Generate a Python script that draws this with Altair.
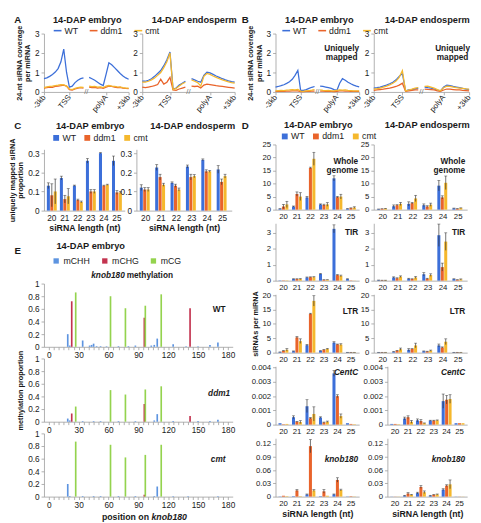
import altair as alt
import pandas as pd

FONT = "Liberation Sans"
GREY = "#9c9c9c"
INK = "#1a1a1a"

GENOTYPES = ["WT", "ddm1", "cmt"]
GENO_COLORS = ["#3c6fd9", "#e9642b", "#f5b82d"]
LENGTHS = [20, 21, 22, 23, 24, 25]

# ---------- Panels A / B : metaplot profiles ----------
SEC1_X = list(range(0, 15))
SEC2_X = list(range(16, 31))
BREAK_X = [15]
PROFILE_TICKS = [0, 9, 22, 30]
PROFILE_LABELS = ["-3kb", "TSS", "polyA", "+3kb"]
PROFILE_Y_TICKS = [0, 1, 2, 3]

A_EMB = {
    "WT": ([0.68, 0.72, 0.80, 0.90, 1.02, 1.20, 1.55, 2.20, 1.00, 0.25, 0.30, 0.48, 0.60, 0.68, 0.72],
           [0.75, 0.68, 0.60, 0.50, 0.40, 0.33, 0.90, 1.50, 1.40, 1.25, 1.10, 0.95, 0.82, 0.72, 0.65]),
    "ddm1": ([0.20, 0.22, 0.25, 0.23, 0.28, 0.30, 0.32, 0.35, 0.30, 0.12, 0.10, 0.15, 0.20, 0.22, 0.20],
             [0.25, 0.22, 0.24, 0.20, 0.22, 0.18, 0.25, 0.30, 0.28, 0.25, 0.22, 0.24, 0.20, 0.18, 0.17]),
    "cmt": ([0.22, 0.26, 0.28, 0.30, 0.33, 0.35, 0.38, 0.36, 0.30, 0.15, 0.12, 0.18, 0.22, 0.25, 0.24],
            [0.30, 0.27, 0.28, 0.25, 0.26, 0.22, 0.30, 0.33, 0.30, 0.28, 0.26, 0.25, 0.22, 0.20, 0.20]),
}
A_END = {
    "WT": ([0.55, 0.55, 0.60, 0.68, 0.80, 0.95, 1.10, 1.35, 1.65, 2.05, 0.15, 0.20, 0.35, 0.45, 0.55],
           [0.68, 0.62, 0.55, 0.50, 0.85, 1.02, 0.98, 0.90, 0.82, 0.75, 0.68, 0.62, 0.57, 0.53, 0.50]),
    "ddm1": ([0.25, 0.22, 0.25, 0.28, 0.32, 0.38, 0.65, 0.40, 0.50, 0.75, 0.10, 0.08, 0.15, 0.20, 0.25],
             [0.30, 0.28, 0.30, 0.20, 0.35, 0.40, 0.38, 0.35, 0.32, 0.30, 0.28, 0.26, 0.24, 0.22, 0.20]),
    "cmt": ([0.50, 0.50, 0.55, 0.62, 0.72, 0.85, 1.00, 1.25, 1.55, 2.00, 0.12, 0.18, 0.30, 0.42, 0.50],
            [0.62, 0.55, 0.48, 0.30, 0.80, 0.95, 0.90, 0.82, 0.75, 0.68, 0.62, 0.57, 0.52, 0.48, 0.45]),
}
B_EMB = {
    "WT": ([0.25, 0.28, 0.32, 0.37, 0.44, 0.52, 0.65, 0.85, 1.10, 0.08, 0.08, 0.12, 0.18, 0.24, 0.28],
           [0.30, 0.28, 0.25, 0.22, 0.18, 0.12, 0.08, 0.45, 0.68, 0.60, 0.50, 0.42, 0.35, 0.30, 0.26]),
    "ddm1": ([0.03, 0.03, 0.04, 0.03, 0.04, 0.04, 0.05, 0.05, 0.06, 0.02, 0.02, 0.03, 0.03, 0.04, 0.04],
             [0.04, 0.04, 0.03, 0.04, 0.03, 0.02, 0.03, 0.05, 0.05, 0.04, 0.04, 0.03, 0.03, 0.03, 0.03]),
    "cmt": ([0.06, 0.07, 0.08, 0.07, 0.09, 0.10, 0.12, 0.10, 0.13, 0.04, 0.03, 0.05, 0.07, 0.09, 0.12],
            [0.10, 0.08, 0.07, 0.08, 0.06, 0.05, 0.08, 0.10, 0.09, 0.10, 0.08, 0.07, 0.06, 0.06, 0.05]),
}
B_END = {
    "WT": ([0.20, 0.22, 0.25, 0.30, 0.35, 0.42, 0.50, 0.62, 0.80, 0.95, 0.05, 0.10, 0.12, 0.16, 0.20],
           [0.25, 0.22, 0.20, 0.15, 0.10, 0.05, 0.25, 0.35, 0.32, 0.28, 0.25, 0.22, 0.18, 0.15, 0.12]),
    "ddm1": ([0.08, 0.10, 0.12, 0.14, 0.17, 0.20, 0.24, 0.28, 0.35, 0.45, 0.03, 0.05, 0.08, 0.10, 0.10],
             [0.15, 0.13, 0.12, 0.10, 0.06, 0.03, 0.10, 0.15, 0.14, 0.12, 0.10, 0.10, 0.08, 0.07, 0.06]),
    "cmt": ([0.15, 0.17, 0.20, 0.25, 0.30, 0.36, 0.45, 0.56, 0.75, 1.10, 0.05, 0.10, 0.14, 0.20, 0.22],
            [0.28, 0.30, 0.25, 0.20, 0.12, 0.06, 0.22, 0.30, 0.28, 0.25, 0.22, 0.20, 0.18, 0.16, 0.15]),
}

# ---------- Panel C : uniquely mapped proportion ----------
C_EMB = {"WT": [0.13, 0.17, 0.13, 0.26, 0.30, 0.26],
         "ddm1": [0.08, 0.06, 0.055, 0.10, 0.13, 0.095],
         "cmt": [0.10, 0.075, 0.045, 0.10, 0.135, 0.095]}
C_EMB_ERR = {"WT": [0.015, 0.01, 0.003, 0.012, 0.003, 0.025],
             "ddm1": [0.06, 0.02, 0.005, 0.01, 0.003, 0.01],
             "cmt": [0.065, 0.04, 0.005, 0.01, 0.003, 0.005]}
C_END = {"WT": [0.12, 0.225, 0.145, 0.23, 0.265, 0.215],
         "ddm1": [0.11, 0.175, 0.13, 0.175, 0.205, 0.15],
         "cmt": [0.11, 0.135, 0.11, 0.18, 0.205, 0.18]}
C_END_ERR = {"WT": [0.015, 0.015, 0.005, 0.008, 0.005, 0.02],
             "ddm1": [0.01, 0.015, 0.008, 0.015, 0.008, 0.015],
             "cmt": [0.01, 0.008, 0.008, 0.008, 0.005, 0.01]}

# ---------- Panel D : siRNAs per miRNA ----------
WHOLE_EMB = {"WT": [0.3, 1.2, 4.7, 2.0, 12.0, 0.3], "ddm1": [1.2, 6.0, 16.0, 1.8, 4.8, 0.6], "cmt": [2.0, 5.0, 19.5, 2.0, 5.0, 0.8]}
WHOLE_EMB_ERR = {"WT": [0.1, 0.2, 0.4, 0.2, 1.0, 0.1], "ddm1": [0.8, 0.8, 0.3, 0.3, 0.3, 0.1], "cmt": [1.2, 1.5, 2.5, 0.7, 0.9, 0.3]}
WHOLE_END = {"WT": [0.2, 1.3, 2.2, 1.7, 9.2, 0.5], "ddm1": [0.3, 1.7, 2.5, 1.2, 4.7, 0.3], "cmt": [0.4, 2.2, 4.3, 1.9, 10.3, 0.6]}
WHOLE_END_ERR = {"WT": [0.05, 0.5, 0.8, 0.5, 2.0, 0.1], "ddm1": [0.05, 0.2, 0.3, 0.3, 0.6, 0.1], "cmt": [0.1, 0.6, 1.2, 0.6, 2.6, 0.1]}

TIR_EMB = {"WT": [0.02, 0.1, 0.2, 0.42, 3.25, 0.1], "ddm1": [0.02, 0.1, 0.22, 0.05, 0.35, 0.02], "cmt": [0.02, 0.1, 0.22, 0.05, 0.3, 0.01]}
TIR_EMB_ERR = {"WT": [0, 0.02, 0.03, 0.03, 0.25, 0.02], "ddm1": [0, 0.02, 0.02, 0.01, 0.03, 0], "cmt": [0, 0.03, 0.03, 0.01, 0.05, 0]}
TIR_END = {"WT": [0.03, 0.2, 0.12, 0.4, 2.85, 0.1], "ddm1": [0.02, 0.15, 0.1, 0.12, 0.85, 0.05], "cmt": [0.02, 0.25, 0.2, 0.35, 2.45, 0.08]}
TIR_END_ERR = {"WT": [0.01, 0.04, 0.03, 0.1, 0.7, 0.02], "ddm1": [0.01, 0.03, 0.02, 0.03, 0.25, 0.01], "cmt": [0.01, 0.05, 0.06, 0.08, 0.55, 0.03]}

LTR_EMB = {"WT": [0.2, 0.5, 2.6, 0.6, 3.5, 0.1], "ddm1": [0.6, 5.3, 13.5, 1.0, 2.9, 0.1], "cmt": [1.0, 4.0, 18.0, 1.3, 2.8, 0.1]}
LTR_EMB_ERR = {"WT": [0.05, 0.1, 0.3, 0.1, 0.3, 0.02], "ddm1": [0.1, 0.3, 0.2, 0.1, 0.1, 0.02], "cmt": [0.4, 0.8, 1.8, 0.2, 0.3, 0.02]}
LTR_END = {"WT": [0.1, 0.3, 1.0, 0.5, 2.5, 0.1], "ddm1": [0.1, 0.7, 1.3, 0.4, 1.8, 0.1], "cmt": [0.1, 1.2, 2.5, 0.7, 3.8, 0.1]}
LTR_END_ERR = {"WT": [0.02, 0.1, 0.4, 0.1, 0.5, 0.02], "ddm1": [0.02, 0.1, 0.1, 0.1, 0.2, 0.02], "cmt": [0.02, 0.4, 0.8, 0.2, 1.0, 0.02]}

CENTC_EMB = {"WT": [0.0001, 0.00052, 0.0013, 0.0005, 0.0036, 0.0001], "ddm1": [0.00003, 0.0002, 0.00045, 0.00015, 0.002, 0.00005], "cmt": [0.00005, 0.00018, 0.00075, 0.0002, 0.0006, 0.00003]}
CENTC_EMB_ERR = {"WT": [0, 0.0001, 0.00045, 0.00005, 0.0002, 0], "ddm1": [0, 0.00003, 0.00005, 0.00003, 0.0001, 0], "cmt": [0, 0.0001, 0.0005, 0.00005, 0.00015, 0]}
CENTC_END = {"WT": [0.00005, 0.00043, 0.0003, 0.00028, 0.00165, 0.0001], "ddm1": [0.00005, 0.00052, 0.00025, 0.00028, 0.00175, 0.0001], "cmt": [0.00003, 0.0002, 0.0001, 0.0003, 0.0018, 0.0001]}
CENTC_END_ERR = {"WT": [0, 0.0001, 0.0001, 0.00003, 0.0005, 0], "ddm1": [0, 0.0001, 0.0001, 0.00003, 0.0003, 0], "cmt": [0, 0.0001, 0.00002, 0.00003, 0.0003, 0]}

KNOB_EMB = {"WT": [0.0005, 0.001, 0.005, 0.001, 0.005, 0.0005], "ddm1": [0.002, 0.014, 0.115, 0.012, 0.038, 0.001], "cmt": [0.001, 0.001, 0.014, 0.002, 0.015, 0.0005]}
KNOB_EMB_ERR = {"WT": [0, 0, 0.001, 0, 0.001, 0], "ddm1": [0, 0.002, 0.015, 0.004, 0.005, 0], "cmt": [0, 0, 0.002, 0, 0.002, 0]}
KNOB_END = {"WT": [0.0003, 0.002, 0.008, 0.002, 0.016, 0.0003], "ddm1": [0.0003, 0.007, 0.022, 0.004, 0.025, 0.0003], "cmt": [0.0003, 0.004, 0.01, 0.005, 0.028, 0.0003]}
KNOB_END_ERR = {"WT": [0, 0.001, 0.002, 0.001, 0.002, 0], "ddm1": [0, 0.002, 0.003, 0.001, 0.002, 0], "cmt": [0, 0.001, 0.003, 0.001, 0.01, 0]}

# ---------- Panel E : knob180 methylation ----------
CONTEXTS = ["mCHH", "mCHG", "mCG"]
CONTEXT_COLORS = ["#5d94e0", "#c3334f", "#94d34e"]
E_X_TICKS = list(range(0, 181, 5))
E_Y_TICKS = [0, 0.2, 0.4, 0.6, 0.8, 1]

E_WT_CHH_POS = [19, 21, 34, 41, 43, 45, 48, 52, 58, 70, 80, 87, 103, 106, 109, 125, 138, 150, 162, 170]
E_WT_CHH_VAL = [0.20, 0.02, 0.10, 0.02, 0.03, 0.05, 0.01, 0.01, 0.01, 0.01, 0.01, 0.02, 0.02, 0.03, 0.13, 0.04, 0.01, 0.01, 0.03, 0.07]
E_WT_CHG_POS = [23, 96, 142]
E_WT_CHG_VAL = [0.72, 0.46, 0.61]
E_WT_CG_POS = [27, 62, 77, 97, 113]
E_WT_CG_VAL = [0.86, 0.80, 0.61, 0.65, 0.83]

E_DDM1_CHH_POS = [19, 21, 34, 45, 52, 70, 87, 106, 109, 125, 150, 162, 170]
E_DDM1_CHH_VAL = [0.05, 0.02, 0.01, 0.01, 0.01, 0.01, 0.01, 0.02, 0.12, 0.01, 0.01, 0.01, 0.03]
E_DDM1_CHG_POS = [23, 96, 142]
E_DDM1_CHG_VAL = [0.13, 0.28, 0.09]
E_DDM1_CG_POS = [27, 62, 77, 97, 113]
E_DDM1_CG_VAL = [0.24, 0.50, 0.43, 0.51, 0.56]

E_CMT_CHH_POS = [19, 21, 34, 45, 52, 70, 87, 106, 109, 125, 140, 170]
E_CMT_CHH_VAL = [0.20, 0.01, 0.01, 0.01, 0.01, 0.01, 0.01, 0.01, 0.16, 0.01, 0.01, 0.01]
E_CMT_CHG_POS = [96]
E_CMT_CHG_VAL = [0.03]
E_CMT_CG_POS = [27, 62, 77, 97, 113]
E_CMT_CG_VAL = [0.87, 0.82, 0.62, 0.66, 0.82]

# ---------- sizes ----------
W_AL, W_AR = 87, 95
W_BL, W_BR = 86, 98
W_CL, W_CR = 83, 98
W_DL, W_DR = 86, 96
D_SHIFT = 14
W_E = 194
H_AB = 60
H_C = 63
H_E = 65

ONE = pd.DataFrame({"k": [0]})


def note(text, x, y, size=8.5, weight="bold", style="normal", align="center", baseline="middle", line_height=None):
    kw = dict(text=text, fontSize=size, fontWeight=weight, fontStyle=style, align=align,
              baseline=baseline, font=FONT, color=INK)
    if line_height:
        kw["lineHeight"] = line_height
    return alt.Chart(ONE).mark_text(**kw).encode(x=alt.value(x), y=alt.value(y))


def geno_legend(x, y, symbol, size, sw, colpad):
    kw = dict(orient="none", legendX=x, legendY=y, direction="horizontal", title=None,
              symbolType=symbol, symbolSize=size, symbolStrokeWidth=sw, labelFontSize=9,
              labelFont=FONT, labelColor=INK, padding=0, columnPadding=colpad, labelOffset=2)
    enc = {"labels": {"fontStyle": {"condition": {"test": "datum.value == 'WT'", "value": "normal"},
                                    "value": "italic"}}}
    try:
        lg = alt.Legend(encode=enc, **kw)
        alt.Chart(pd.DataFrame({"g": GENOTYPES})).mark_point().encode(
            color=alt.Color("g:N", legend=lg)).to_dict()
        return lg
    except Exception:
        return alt.Legend(**kw)


def label_expr(ticks, labels):
    parts = [f"datum.value == {t} ? '{l}'" for t, l in zip(ticks, labels)]
    return " : ".join(parts) + " : ''"


def geno_color(legend):
    return alt.Color("geno:N", scale=alt.Scale(domain=GENOTYPES, range=GENO_COLORS), legend=legend)


def profile_chart(series, w, h, ytitle=None, legend=None, notes=()):
    rows = []
    for g in GENOTYPES:
        s1, s2 = series[g]
        rows += [{"pos": x, "val": v, "geno": g, "sec": "up"} for x, v in zip(SEC1_X, s1)]
        rows += [{"pos": x, "val": v, "geno": g, "sec": "down"} for x, v in zip(SEC2_X, s2)]
    df = pd.DataFrame(rows)
    xsc = alt.Scale(domain=[0, 30], nice=False, zero=False)
    ysc = alt.Scale(domain=[0, 3], nice=False)
    xax = alt.Axis(values=PROFILE_TICKS, labelExpr=label_expr(PROFILE_TICKS, PROFILE_LABELS),
                   labelAngle=-50, labelAlign="right", labelBaseline="middle", title=None,
                   labelPadding=1, labelFontSize=8)
    yax = alt.Axis(values=PROFILE_Y_TICKS, title=ytitle, titlePadding=3, titleLineHeight=8.5)
    lines = alt.Chart(df).mark_line(strokeWidth=1.3).encode(
        x=alt.X("pos:Q", scale=xsc, axis=xax),
        y=alt.Y("val:Q", scale=ysc, axis=yax),
        color=geno_color(legend),
        detail="sec:N",
    )
    brk = alt.Chart(pd.DataFrame({"pos": BREAK_X})).mark_text(
        text="//", fontSize=8, color="#777", font=FONT, baseline="middle").encode(
        x=alt.X("pos:Q", scale=xsc, axis=xax), y=alt.value(h))
    return alt.layer(lines, brk, *notes).properties(width=w, height=h)


def bar_chart(vals, errs, w, h, domain, ticks, ytitle=None, xtitle=None, legend=None, notes=(),
              shift=0, tick_font=8.5):
    rows = []
    for g in GENOTYPES:
        for L, v, e in zip(LENGTHS, vals[g], errs[g]):
            rows.append({"len": L, "geno": g, "val": v, "lo": max(v - e, 0), "hi": v + e, "err": e})
    df = pd.DataFrame(rows)
    xs = dict(paddingInner=0.24, paddingOuter=0.22)
    if shift:
        xs["range"] = [shift, w]
    x = alt.X("len:O", scale=alt.Scale(**xs),
              axis=alt.Axis(title=xtitle, labelAngle=0, ticks=False, tickSize=0, labelPadding=3,
                            titleFontSize=9, titlePadding=2, labelFontSize=tick_font))
    xo = alt.XOffset("geno:N", scale=alt.Scale(domain=GENOTYPES, paddingInner=0.12))
    ysc = alt.Scale(domain=domain, nice=False)
    yk = dict(values=ticks, format="~g", title=ytitle, titlePadding=3, titleLineHeight=8.5,
              labelFontSize=tick_font)
    if shift:
        yk["offset"] = -shift
    yax = alt.Axis(**yk)
    bars = alt.Chart(df).mark_bar().encode(
        x=x, xOffset=xo, y=alt.Y("val:Q", scale=ysc, axis=yax), color=geno_color(legend))
    eb = alt.Chart(df).transform_filter("datum.err > 0")
    rules = eb.mark_rule(color="#333333", strokeWidth=0.7).encode(
        x=x, xOffset=xo, y=alt.Y("lo:Q", scale=ysc, axis=yax), y2="hi:Q")
    caps = eb.mark_tick(color="#333333", thickness=0.7, size=3).encode(
        x=x, xOffset=xo, y=alt.Y("hi:Q", scale=ysc, axis=yax))
    return alt.layer(bars, rules, caps, *notes).properties(width=w, height=h)


def meth_chart(chh, chg, cg, w, h, ytitle=None, legend=None, notes=()):
    rows = []
    for ctx, (pos, val) in zip(CONTEXTS, [chh, chg, cg]):
        rows += [{"pos": p, "val": v, "ctx": ctx} for p, v in zip(pos, val)]
    df = pd.DataFrame(rows)
    x = alt.X("pos:Q", scale=alt.Scale(domain=[0, 180], nice=False),
              axis=alt.Axis(values=E_X_TICKS, labelExpr="datum.value % 30 == 0 ? datum.label : ''",
                            title=None, tickSize=3, labelPadding=1))
    y = alt.Y("val:Q", scale=alt.Scale(domain=[0, 1], nice=False),
              axis=alt.Axis(values=E_Y_TICKS, format="~g", title=ytitle, titlePadding=3))
    bars = alt.Chart(df).mark_bar(size=1.7).encode(
        x=x, y=y,
        color=alt.Color("ctx:N", scale=alt.Scale(domain=CONTEXTS, range=CONTEXT_COLORS), legend=legend))
    return alt.layer(bars, *notes).properties(width=w, height=h)


def indep(ch):
    return ch.resolve_scale(color="independent", x="independent", y="independent").resolve_legend(
        color="independent")


YT_COV = ["24-nt siRNA coverage", "per miRNA"]

# ---- A ----
a_emb = profile_chart(A_EMB, W_AL, H_AB, ytitle=YT_COV,
                      legend=geno_legend(9, -8, "stroke", 64, 1.6, 8),
                      notes=[note("A", -27, -14, size=10), note("14-DAP embryo", W_AL / 2 + 1, -14, size=9.5)])
a_end = profile_chart(A_END, W_AR, H_AB, notes=[note("14-DAP endosperm", W_AR / 2 + 6, -14, size=9.5)])

# ---- B ----
b_emb = profile_chart(B_EMB, W_BL, H_AB, ytitle=YT_COV,
                      legend=geno_legend(6, -8, "stroke", 64, 1.6, 8),
                      notes=[note("B", -31, -14, size=10), note("14-DAP embryo", W_BL / 2 + 2, -14, size=9.5),
                             note(["Uniquely", "mapped"], W_BL - 18, 15, line_height=9)])
b_end = profile_chart(B_END, W_BR, H_AB,
                      notes=[note("14-DAP endosperm", W_BR / 2 + 6, -14, size=9.5),
                             note(["Uniquely", "mapped"], W_BR - 17, 15, line_height=9)])

# ---- C ----
C_TICKS = [0, 0.1, 0.2, 0.3]
c_emb = bar_chart(C_EMB, C_EMB_ERR, W_CL, H_C, [0, 0.32], C_TICKS,
                  ytitle=["uniquely mapped siRNA", "proportion"], xtitle="siRNA length (nt)",
                  legend=geno_legend(8, -16.5, "square", 36, 0, 7),
                  notes=[note("C", -27, -24, size=10), note("14-DAP embryo", W_CL / 2 + 6, -24, size=9.5)])
c_end = bar_chart(C_END, C_END_ERR, W_CR, H_C, [0, 0.32], C_TICKS, xtitle="siRNA length (nt)",
                  notes=[note("14-DAP endosperm", W_CR / 2 + 9, -24, size=9.5)])

# ---- D ----
D_ROWS = [
    ("whole", WHOLE_EMB, WHOLE_EMB_ERR, WHOLE_END, WHOLE_END_ERR, 67, [0, 25], [0, 5, 10, 15, 20, 25]),
    ("tir", TIR_EMB, TIR_EMB_ERR, TIR_END, TIR_END_ERR, 59, [0, 3.6], [0, 1, 2, 3]),
    ("ltr", LTR_EMB, LTR_EMB_ERR, LTR_END, LTR_END_ERR, 60, [0, 20.3], [0, 5, 10, 15, 20]),
    ("centc", CENTC_EMB, CENTC_EMB_ERR, CENTC_END, CENTC_END_ERR, 60, [0, 0.0041], [0, 0.001, 0.002, 0.003, 0.004]),
    ("knob", KNOB_EMB, KNOB_EMB_ERR, KNOB_END, KNOB_END_ERR, 60, [0, 0.133], [0, 0.03, 0.06, 0.09, 0.12]),
]


def d_label(key, right_edge, h):
    if key == "whole":
        return note(["Whole", "genome"], right_edge, 17, align="right", line_height=9.5)
    if key == "tir":
        return note("TIR", right_edge, 9, align="right")
    if key == "ltr":
        return note("LTR", right_edge, 17, align="right")
    if key == "centc":
        return note("CentC", right_edge, 6, align="right", style="italic")
    return note("knob180", right_edge, 21, align="right", style="italic")


d_cells = []
for key, ve, ee, vn, en, h, dom, tks in D_ROWS:
    last = key == "knob"
    xt = "siRNA length (nt)" if last else None
    shift = D_SHIFT if key in ("centc", "knob") else 0
    left_notes = [d_label(key, W_DL - 1, h)]
    right_notes = [d_label(key, W_DR - 2, h)]
    leg = None
    if key == "whole":
        left_notes += [note("D", -31, -19, size=10), note("14-DAP embryo", W_DL / 2 + 1, -20, size=9.5)]
        right_notes += [note("14-DAP endosperm", W_DR / 2 + 7, -20, size=9.5)]
        leg = geno_legend(5, -13, "square", 36, 0, 7)
    yt = "siRNAs per miRNA" if key == "ltr" else None
    d_cells.append(bar_chart(ve, ee, W_DL, h, dom, tks, ytitle=yt, xtitle=xt, legend=leg,
                             notes=left_notes, tick_font=8))
    d_cells.append(bar_chart(vn, en, W_DR, h, dom, tks, xtitle=xt, notes=right_notes,
                             shift=shift, tick_font=8))

# ---- E ----
e_legend = alt.Legend(orient="none", legendX=8, legendY=-28, direction="horizontal", title=None,
                      symbolType="square", symbolSize=30, symbolStrokeWidth=0, labelFontSize=9,
                      labelFont=FONT, labelColor=INK, padding=0, columnPadding=10, labelOffset=3,
                      gridAlign="all")
e_wt = meth_chart((E_WT_CHH_POS, E_WT_CHH_VAL), (E_WT_CHG_POS, E_WT_CHG_VAL), (E_WT_CG_POS, E_WT_CG_VAL),
                  W_E, H_E, legend=e_legend,
                  notes=[note("E", -27, -33, size=10), note("14-DAP embryo", 48, -39, size=9.5),
                         note("knob180", 83, -8.5, size=8.5, style="italic", align="right"),
                         note("methylation", 85, -8.5, size=8.5, align="left"),
                         note("WT", 180, 26)])
e_ddm1 = meth_chart((E_DDM1_CHH_POS, E_DDM1_CHH_VAL), (E_DDM1_CHG_POS, E_DDM1_CHG_VAL),
                    (E_DDM1_CG_POS, E_DDM1_CG_VAL), W_E, H_E, ytitle="methylation proportion",
                    notes=[note("ddm1", 180, 36, style="italic")])
e_cmt = meth_chart((E_CMT_CHH_POS, E_CMT_CHH_VAL), (E_CMT_CHG_POS, E_CMT_CHG_VAL),
                   (E_CMT_CG_POS, E_CMT_CG_VAL), W_E, H_E,
                   notes=[note("cmt", 179, 26, style="italic"),
                          note("position on", 108, H_E + 21, size=9, align="right"),
                          note("knob180", 110.5, H_E + 21, size=9, style="italic", align="left")])

a_row = indep(alt.hconcat(a_emb, a_end, spacing=14, bounds="flush"))
c_row = indep(alt.hconcat(c_emb, c_end, spacing=12, bounds="flush"))
e_col = indep(alt.vconcat(e_wt, e_ddm1, e_cmt, spacing=12, bounds="flush"))
left = indep(alt.vconcat(a_row, c_row, e_col, spacing=8))

b_row = indep(alt.hconcat(b_emb, b_end, spacing=15, bounds="flush"))
d_grid = indep(alt.concat(*d_cells, columns=2, spacing={"row": 14, "column": 15}, bounds="flush"))
right = indep(alt.vconcat(b_row, d_grid, spacing=7))

chart = indep(alt.hconcat(left, right, spacing=3)).properties(padding=0)
chart = chart.configure(font=FONT).configure_view(stroke=None).configure_axis(
    domainColor=GREY, tickColor=GREY, labelColor=INK, titleColor=INK, labelFont=FONT, titleFont=FONT,
    labelFontSize=8.5, titleFontSize=7.5, titleFontWeight="bold", grid=False, tickSize=3,
    domainWidth=0.8, tickWidth=0.8).configure_legend(labelFont=FONT)

chart.save("out.html", embed_options={"renderer": "svg", "actions": False})
